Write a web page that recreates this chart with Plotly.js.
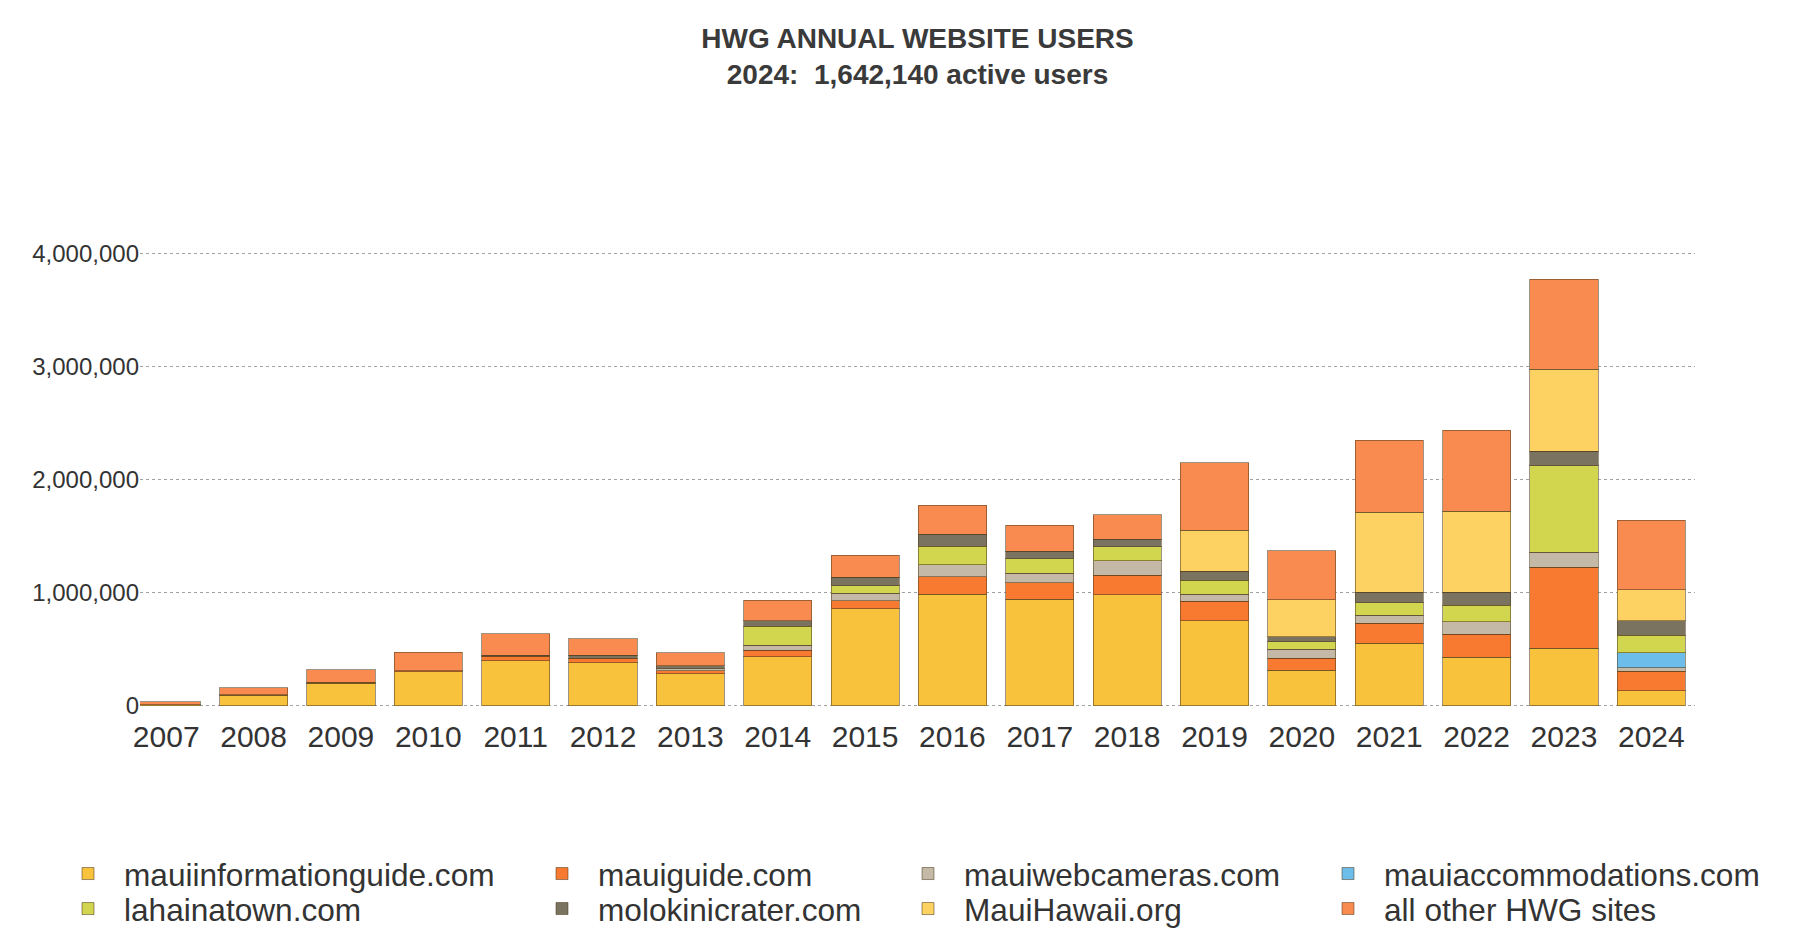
<!DOCTYPE html>
<html>
<head>
<meta charset="utf-8">
<script src="https://cdn.plot.ly/plotly-3.0.1.min.js"></script>
<style>html,body{margin:0;padding:0;background:#fff;}#chart{width:1800px;height:952px;}</style>
</head>
<body>
<div id="chart"></div>
<script>
const years = ['2007','2008','2009','2010','2011','2012','2013','2014','2015','2016','2017','2018','2019','2020','2021','2022','2023','2024'];

const seriesNames = ['mauiinformationguide.com','mauiguide.com','mauiwebcameras.com','mauiaccommodations.com','lahainatown.com','molokinicrater.com','MauiHawaii.org','all other HWG sites'];

const mauiinformationguide = [10000, 95000, 200000, 300000, 397000, 379000, 282000, 434000, 856000, 985000, 943000, 983000, 753000, 316000, 552000, 431000, 511000, 132000];
const mauiguide            = [null, 5000, 8000, 10000, 43000, 43000, 30000, 57000, 72000, 158000, 144000, 172000, 172000, 106000, 178000, 201000, 713000, 172000];
const mauiwebcameras       = [null, null, null, null, null, null, 16000, 45000, 66000, 106000, 86000, 129000, 63000, 78000, 72000, 109000, 135000, 34000];
const mauiaccommodations   = [null, null, null, null, null, null, null, null, null, null, null, null, null, null, null, null, null, 129000];
const lahainatown          = [null, null, null, null, null, null, null, 167000, 69000, 161000, 129000, 124000, 124000, 66000, 109000, 149000, 761000, 158000];
const molokinicrater       = [null, null, null, null, 5000, 23000, 25000, 49000, 75000, 106000, 66000, 63000, 78000, 43000, 95000, 115000, 129000, 129000];
const mauihawaii           = [null, null, null, null, null, null, null, null, null, null, null, null, 362000, 330000, 704000, 713000, 727000, 273000];
const allOther             = [25000, 58000, 110000, 164000, 193000, 150000, 118000, 181000, 193000, 259000, 230000, 216000, 595000, 431000, 638000, 718000, 796000, 615000];

const seriesValues = [mauiinformationguide, mauiguide, mauiwebcameras, mauiaccommodations, lahainatown, molokinicrater, mauihawaii, allOther];
const seriesColors = ['#F9C23C','#F87A30','#C4B8A6','#6DBDEB','#D2D54E','#7A7360','#FDD262','#FA8B50'];
const yTicks = [0, 1000000, 2000000, 3000000, 4000000];

// plot area (pixels)
const M = {l: 140, r: 105, t: 242, b: 236};
const W = 1800, H = 952;
const PW = W - M.l - M.r, PH = H - M.t - M.b;

// legend placement (pixels): item left edges and row centres
const legendCols = [52, 526, 892, 1312, 52, 526, 892, 1312];
const legendRows = [874, 874, 874, 874, 909, 909, 909, 909];

const FONT = 'Liberation Sans, Arial, Helvetica, sans-serif';

const traces = seriesNames.map((name, i) => ({
  type: 'bar',
  name: name,
  x: years,
  y: seriesValues[i],
  marker: {color: seriesColors[i], line: {color: 'rgba(80,60,30,0.55)', width: 1}},
  legend: i === 0 ? 'legend' : 'legend' + (i + 1),
  hoverinfo: 'x+y+name'
}));

const layout = {
  width: W, height: H,
  paper_bgcolor: '#ffffff', plot_bgcolor: '#ffffff',
  margin: {l: M.l, r: M.r, t: M.t, b: M.b, autoexpand: false},
  barmode: 'stack',
  bargap: 0.22,
  showlegend: true,
  title: {
    text: 'HWG ANNUAL WEBSITE USERS<br>2024:\u00a0 1,642,140 active users',
    font: {family: FONT, size: 28, color: '#3a3a3a', weight: 'bold'},
    x: 0.5, xref: 'paper', xanchor: 'center',
    y: 1 - 47.5 / H, yref: 'container', yanchor: 'middle'
  },
  xaxis: {
    type: 'category', range: [-0.3, 17.5],
    showgrid: false, zeroline: false, showline: false, ticks: '',
    tickangle: 0,
    tickfont: {family: FONT, size: 30, color: '#333333'}
  },
  yaxis: {
    range: [-90000, 4100000],
    tickvals: yTicks, tickformat: ',d',
    showgrid: true, gridcolor: '#a0a0a0', griddash: 'dot', gridwidth: 1,
    zeroline: false, showline: false, ticks: '',
    tickfont: {family: FONT, size: 24, color: '#333333'}
  }
};

seriesNames.forEach((n, i) => {
  const key = i === 0 ? 'legend' : 'legend' + (i + 1);
  layout[key] = {
    x: (legendCols[i] - M.l) / PW, y: (H - M.b - legendRows[i]) / PH,
    xref: 'paper', yref: 'paper',
    xanchor: 'left', yanchor: 'middle',
    orientation: 'v', traceorder: 'normal',
    itemwidth: 62,
    bgcolor: 'rgba(0,0,0,0)', borderwidth: 0,
    font: {family: FONT, size: 31.6, color: '#333333'}
  };
});

Plotly.newPlot('chart', traces, layout, {displayModeBar: false, responsive: false});
</script>
</body>
</html>
